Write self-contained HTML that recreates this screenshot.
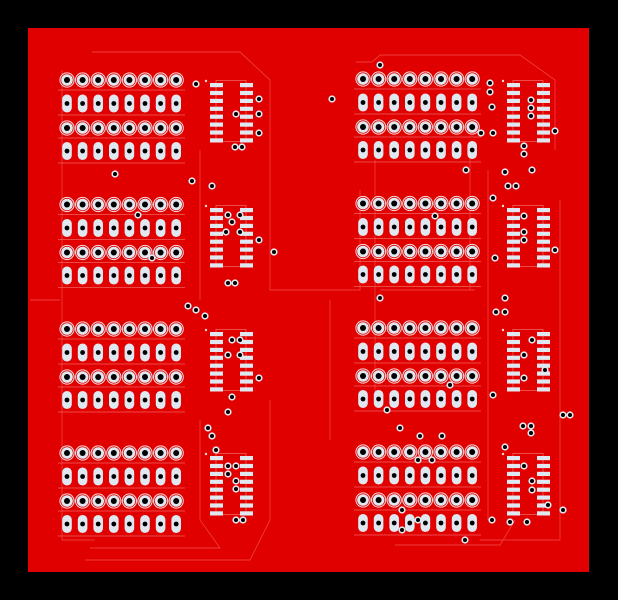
<!DOCTYPE html>
<html><head><meta charset="utf-8"><style>
html,body{margin:0;padding:0;background:#000;width:618px;height:600px;overflow:hidden}
svg{display:block}
</style></head><body>
<svg width="618" height="600" viewBox="0 0 618 600" xmlns="http://www.w3.org/2000/svg">
<defs>
<g id="rp"><circle r="7.6" fill="#f4d8d8"/><circle r="6.6" fill="#e00000"/><circle r="5.8" fill="#dfe8f0"/><circle r="3" fill="#000"/></g>
<g id="op"><rect x="-4.8" y="-9" width="9.6" height="18" rx="4.8" fill="#dfe8f0"/><circle r="2.4" fill="#000"/></g>
<g id="via"><circle r="3.6" fill="#dfe8f0"/><circle r="2" fill="#000"/></g>
<g id="row">
<use href="#rp" x="0"/><use href="#rp" x="15.6"/><use href="#rp" x="31.2"/><use href="#rp" x="46.8"/><use href="#rp" x="62.4"/><use href="#rp" x="78"/><use href="#rp" x="93.6"/><use href="#rp" x="109.2"/>
</g>
<g id="orow">
<use href="#op" x="0"/><use href="#op" x="15.6"/><use href="#op" x="31.2"/><use href="#op" x="46.8"/><use href="#op" x="62.4"/><use href="#op" x="78"/><use href="#op" x="93.6"/><use href="#op" x="109.2"/>
</g>
<g id="blk">
<line x1="-9" y1="10" x2="118" y2="10" stroke="#f26060" stroke-width="0.8"/>
<line x1="-9" y1="35" x2="118" y2="35" stroke="#f26060" stroke-width="0.8"/>
<line x1="-9" y1="58" x2="118" y2="58" stroke="#f26060" stroke-width="0.8"/>
<line x1="-9" y1="83" x2="118" y2="83" stroke="#f26060" stroke-width="0.8"/>
<use href="#row" y="0"/><use href="#orow" y="23.5"/><use href="#row" y="48"/><use href="#orow" y="71"/>
</g>
<g id="pl"><rect width="13" height="4.2" fill="#dfe8f0"/></g>
<g id="ic">
<rect x="6" y="0.5" width="30" height="61" fill="none" stroke="#f26060" stroke-width="0.8"/>
<use href="#pl" y="3"/><use href="#pl" y="10.9"/><use href="#pl" y="18.8"/><use href="#pl" y="26.7"/><use href="#pl" y="34.6"/><use href="#pl" y="42.5"/><use href="#pl" y="50.4"/><use href="#pl" y="58.3"/>
<use href="#pl" x="30" y="3"/><use href="#pl" x="30" y="10.9"/><use href="#pl" x="30" y="18.8"/><use href="#pl" x="30" y="26.7"/><use href="#pl" x="30" y="34.6"/><use href="#pl" x="30" y="42.5"/><use href="#pl" x="30" y="50.4"/><use href="#pl" x="30" y="58.3"/>
<circle cx="-4" cy="1" r="1.2" fill="#f4d8d8"/>
</g>
</defs>
<rect x="28" y="28" width="561" height="544" fill="#e00000"/>
<g fill="none" stroke="#f03a3a" stroke-width="0.9">
<path d="M62 70 V540 H95 M115 52 H240 L270 80 V290 H360 V190"/>
<path d="M90 548 H220 L200 520 M200 150 V300 M85 560 H250 L270 520 V400"/>
<path d="M356 62 H372 L380 55 H520 L555 80 V150 M470 148 V290 M380 290 H475"/>
<path d="M395 545 H500 L515 520 M560 200 V540 H480 M488 170 V520 M375 160 V400"/>
<path d="M92 52 H240 M330 300 V440 M60 300 H30 M200 420 V520"/>
</g>
<use href="#blk" x="67" y="80"/><use href="#blk" x="67" y="204.5"/><use href="#blk" x="67" y="329"/><use href="#blk" x="67" y="453"/>
<use href="#blk" x="363" y="79"/><use href="#blk" x="363" y="203.5"/><use href="#blk" x="363" y="328"/><use href="#blk" x="363" y="452"/>
<use href="#ic" x="210" y="80"/><use href="#ic" x="210" y="205"/><use href="#ic" x="210" y="329"/><use href="#ic" x="210" y="453"/>
<use href="#ic" x="507" y="80"/><use href="#ic" x="507" y="205"/><use href="#ic" x="507" y="329"/><use href="#ic" x="507" y="453"/>
<g>
<use href="#via" x="196" y="84"/><use href="#via" x="259" y="99"/><use href="#via" x="236" y="114"/><use href="#via" x="259" y="114"/><use href="#via" x="259" y="133"/><use href="#via" x="235" y="147"/><use href="#via" x="242" y="147"/>
<use href="#via" x="115" y="174"/><use href="#via" x="192" y="181"/><use href="#via" x="212" y="186"/><use href="#via" x="138" y="215"/><use href="#via" x="228" y="215"/><use href="#via" x="240" y="215"/><use href="#via" x="232" y="222"/><use href="#via" x="226" y="232"/><use href="#via" x="240" y="232"/><use href="#via" x="259" y="240"/><use href="#via" x="274" y="252"/><use href="#via" x="152" y="258"/><use href="#via" x="228" y="283"/><use href="#via" x="235" y="283"/>
<use href="#via" x="188" y="306"/><use href="#via" x="196" y="310"/><use href="#via" x="205" y="316"/><use href="#via" x="232" y="340"/><use href="#via" x="240" y="340"/><use href="#via" x="228" y="355"/><use href="#via" x="240" y="355"/><use href="#via" x="259" y="378"/><use href="#via" x="232" y="397"/><use href="#via" x="228" y="412"/>
<use href="#via" x="208" y="428"/><use href="#via" x="212" y="436"/><use href="#via" x="216" y="450"/><use href="#via" x="228" y="466"/><use href="#via" x="236" y="466"/><use href="#via" x="228" y="474"/><use href="#via" x="236" y="481"/><use href="#via" x="236" y="489"/><use href="#via" x="236" y="520"/><use href="#via" x="243" y="520"/>
<use href="#via" x="332" y="99"/><use href="#via" x="380" y="65"/><use href="#via" x="490" y="83"/><use href="#via" x="490" y="92"/><use href="#via" x="492" y="107"/><use href="#via" x="481" y="133"/><use href="#via" x="493" y="133"/><use href="#via" x="531" y="100"/><use href="#via" x="531" y="108"/><use href="#via" x="531" y="116"/><use href="#via" x="555" y="131"/><use href="#via" x="524" y="146"/><use href="#via" x="524" y="154"/>
<use href="#via" x="466" y="170"/><use href="#via" x="505" y="172"/><use href="#via" x="532" y="170"/><use href="#via" x="508" y="186"/><use href="#via" x="516" y="186"/><use href="#via" x="493" y="198"/><use href="#via" x="435" y="216"/><use href="#via" x="524" y="216"/><use href="#via" x="524" y="232"/><use href="#via" x="524" y="240"/><use href="#via" x="555" y="250"/><use href="#via" x="495" y="258"/>
<use href="#via" x="380" y="298"/><use href="#via" x="505" y="298"/><use href="#via" x="496" y="312"/><use href="#via" x="505" y="312"/><use href="#via" x="532" y="340"/><use href="#via" x="524" y="355"/><use href="#via" x="545" y="370"/><use href="#via" x="524" y="378"/><use href="#via" x="450" y="385"/><use href="#via" x="493" y="395"/><use href="#via" x="387" y="410"/><use href="#via" x="400" y="428"/><use href="#via" x="563" y="415"/><use href="#via" x="570" y="415"/><use href="#via" x="523" y="426"/><use href="#via" x="531" y="426"/><use href="#via" x="531" y="433"/>
<use href="#via" x="420" y="436"/><use href="#via" x="442" y="436"/><use href="#via" x="505" y="447"/><use href="#via" x="418" y="460"/><use href="#via" x="432" y="460"/><use href="#via" x="524" y="466"/><use href="#via" x="532" y="481"/><use href="#via" x="532" y="490"/><use href="#via" x="548" y="505"/><use href="#via" x="563" y="510"/><use href="#via" x="402" y="510"/><use href="#via" x="402" y="530"/><use href="#via" x="418" y="520"/><use href="#via" x="492" y="520"/><use href="#via" x="510" y="522"/><use href="#via" x="527" y="522"/><use href="#via" x="465" y="540"/>
</g>
</svg>
</body></html>
